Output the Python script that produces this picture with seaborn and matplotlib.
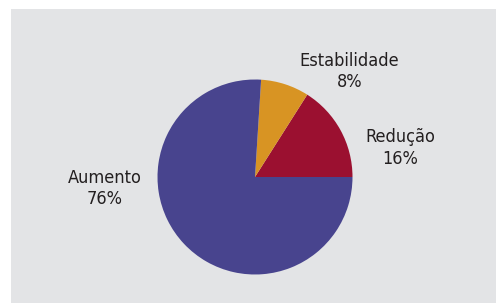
import matplotlib
matplotlib.use("Agg")
import matplotlib.pyplot as plt
import seaborn as sns
from matplotlib import font_manager

categories = ["Redução", "Estabilidade", "Aumento"]
values = [16, 8, 76]
colors = ["#9b1030", "#d89423", "#48448e"]
label_pos = {"Redução": (1.49, 0.30), "Estabilidade": (0.97, 1.08), "Aumento": (-1.54, -0.12)}

sns.set_style("white")
avail = {f.name for f in font_manager.fontManager.ttflist}
cond = [f.fname for f in font_manager.fontManager.ttflist if "Condensed" in f.fname or "Narrow" in f.fname]
print(sorted(avail))
print(cond)
plt.rcParams["font.family"] = ["DejaVu Sans"]

fig = plt.figure(figsize=(4.96, 3.04), dpi=100)
fig.patch.set_facecolor("white")
W, H = 496, 304
ax = fig.add_axes([11 / W, 1 / H, 485 / W, 294 / H])

ax.pie(values, colors=colors, startangle=0, counterclock=True, radius=1.0,
       wedgeprops=dict(linewidth=0), frame=True)
ax.set_facecolor("#e3e4e6")
for s in ax.spines.values():
    s.set_visible(False)
ax.set_xticks([])
ax.set_yticks([])
ax.set_aspect("auto")
ax.set_xlim((11 - 255) / 97.5, (496 - 255) / 97.5)
ax.set_ylim(-(303 - 177) / 97.5, (177 - 9) / 97.5)

for c, v in zip(categories, values):
    x, y = label_pos[c]
    ax.text(x, y, f"{c}\n{v}%", ha="center", va="center", fontsize=13,
            fontstretch="condensed", color="#231f20", linespacing=1.25)

fig.savefig("out.png", dpi=100, facecolor=fig.get_facecolor())
